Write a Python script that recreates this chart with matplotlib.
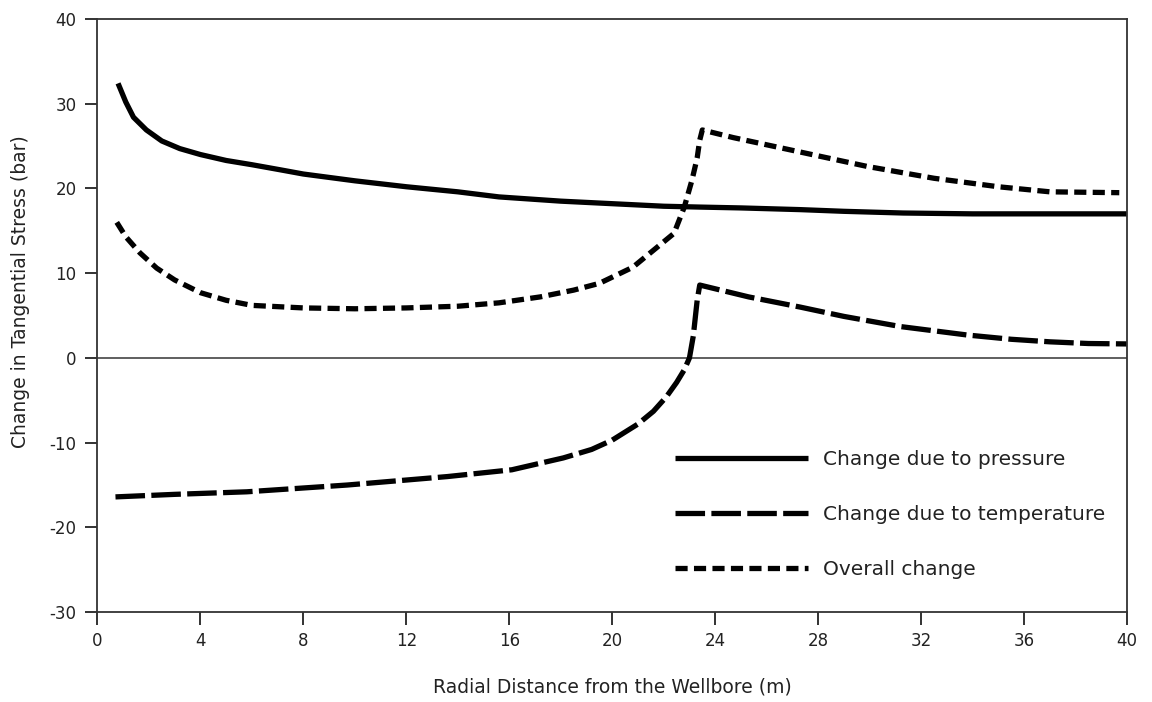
# Change in tangential stress around a wellbore vs radial distance

import matplotlib
matplotlib.use("Agg")
import matplotlib.pyplot as plt

# Change due to pressure (solid)
pressure_x = [0.8, 1.1, 1.4, 1.9, 2.5, 3.2, 4.0, 5.0, 6.0, 7.1, 8.0, 10.0, 12.0,
              14.0, 15.6, 18.0, 20.0, 22.0, 23.4, 25.0, 27.3, 29.0, 31.3, 34.0,
              36.0, 38.0, 40.0]
pressure_y = [32.4, 30.2, 28.4, 26.9, 25.6, 24.7, 24.0, 23.3, 22.8, 22.2, 21.7,
              20.9, 20.2, 19.6, 19.0, 18.5, 18.2, 17.9, 17.8, 17.7, 17.5, 17.3,
              17.1, 17.0, 17.0, 17.0, 17.0]

# Change due to temperature (long dash)
temp_x = [0.7, 3.0, 5.8, 9.7, 13.6, 16.1, 18.1, 19.2, 20.0, 21.0, 21.6, 22.1,
          22.5, 22.8, 23.0, 23.15, 23.3, 23.4, 25.3, 27.3, 29.0, 31.2, 33.8,
          35.5, 37.0, 38.5, 40.0]
temp_y = [-16.4, -16.1, -15.8, -15.0, -14.0, -13.2, -11.8, -10.8, -9.7, -7.8,
          -6.3, -4.6, -2.9, -1.4, 0.0, 2.6, 6.8, 8.6, 7.2, 6.0, 4.9, 3.7, 2.7,
          2.2, 1.9, 1.7, 1.65]

# Overall change (short dash)
overall_x = [0.75, 1.1, 1.65, 2.3, 3.0, 4.0, 5.0, 6.0, 8.0, 10.0, 12.0, 14.0,
             15.6, 17.2, 18.5, 19.5, 20.8, 21.6, 22.4, 22.8, 23.1, 23.3, 23.4,
             23.5, 24.7, 27.3, 29.9, 32.5, 35.0, 37.0, 39.7]
overall_y = [16.0, 14.3, 12.4, 10.6, 9.2, 7.7, 6.8, 6.2, 5.9, 5.8, 5.9, 6.1,
             6.5, 7.2, 8.0, 8.8, 10.7, 12.7, 14.7, 17.8, 21.0, 23.6, 25.7,
             26.9, 26.0, 24.3, 22.6, 21.2, 20.2, 19.6, 19.5]

x_ticks = [0, 4, 8, 12, 16, 20, 24, 28, 32, 36, 40]
y_ticks = [-30, -20, -10, 0, 10, 20, 30, 40]

plt.rcParams['font.family'] = ['DejaVu Sans']
plt.rcParams['axes.unicode_minus'] = False

fig = plt.figure(figsize=(11.52, 7.02), dpi=100)
ax = fig.add_axes([0.0846, 0.128, 0.8937, 0.845])

lw = 3.8
ax.axhline(0, color='#444444', linewidth=1.2, zorder=1)
ax.plot(pressure_x, pressure_y, color='black', linewidth=lw,
        solid_capstyle='butt', label='Change due to pressure')
ax.plot(temp_x, temp_y, color='black', linewidth=lw, dashes=(5.6, 1.2),
        label='Change due to temperature')
ax.plot(overall_x, overall_y, color='black', linewidth=lw, dashes=(2.3, 1.2),
        label='Overall change')

ax.set_xlim(0, 40)
ax.set_ylim(-30, 40)
ax.set_xticks(x_ticks)
ax.set_yticks(y_ticks)
ax.tick_params(direction='out', length=9, width=1.3, colors='#222222',
               labelsize=12, pad=6)
ax.tick_params(axis='x', pad=5)
for side in ['left', 'right', 'top', 'bottom']:
    ax.spines[side].set_linewidth(1.3)
    ax.spines[side].set_color('#333333')

ax.set_xlabel('Radial Distance from the Wellbore (m)', fontsize=13.5,
              color='#222222', labelpad=20)
ax.set_ylabel('Change in Tangential Stress (bar)', fontsize=13.5,
              color='#222222')
ax.yaxis.set_label_coords(-0.066, 0.54)

leg = ax.legend(loc='upper left', bbox_to_anchor=(0.553, 0.287),
                frameon=False, fontsize=14.5, handlelength=6.6,
                handletextpad=0.75, labelspacing=1.8, borderaxespad=0)
for t in leg.get_texts():
    t.set_color('#222222')

fig.savefig('out.png', dpi=100)
